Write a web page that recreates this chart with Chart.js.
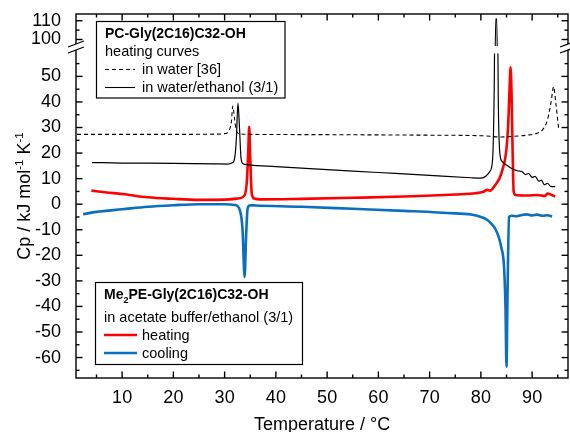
<!DOCTYPE html>
<html>
<head>
<meta charset="utf-8">
<script src="https://cdn.jsdelivr.net/npm/chart.js@4.4.1/dist/chart.umd.min.js"></script>
<style>
  html, body { margin: 0; padding: 0; background: #fff; }
  #wrap { width: 570px; height: 432px; position: relative; }
</style>
</head>
<body>
<div id="wrap"><canvas id="dsc"></canvas></div>
<script>
// ---------- DATA ----------
// PC-Gly(2C16)C32-OH, heating in water [36]
const tempWater = [1.2, 10, 20, 28, 30, 30.8, 31.3, 31.6, 31.9, 32.3, 33, 36, 50, 70, 80, 84, 86, 89, 91, 92, 93, 93.7, 94.2, 94.6, 95.2];
const cpWater   = [27.3, 27.3, 27.3, 27.4, 27.6, 28.6, 32, 38.4, 34, 28.6, 27.5, 27.3, 27.2, 27.0, 26.8, 26.3, 26.5, 27.0, 27.8, 29, 33, 40, 46, 40, 29];

// PC-Gly(2C16)C32-OH, heating in water/ethanol (3/1)
const tempEtOH = [4.1, 10, 20, 28, 30.5, 31.5, 32.0, 32.3, 32.6, 32.9, 33.2, 33.6, 34.5, 40, 50, 60, 70, 78, 80, 81, 81.8, 82.3, 82.6, 82.9, 83.1, 83.4, 83.7, 84.2, 85, 86, 87.3, 88, 88.7, 89.3, 90, 90.6, 91.3, 91.8, 92.4, 93, 93.6, 94.5];
const cpEtOH   = [16.3, 16.1, 16.0, 15.8, 15.7, 16.2, 18.5, 26, 39.6, 30, 18, 15.8, 15.4, 14.7, 13.55, 12.4, 11.25, 10.35, 10.2, 11.0, 13, 18, 45, 111, 111, 40, 20, 16.6, 15.3, 14, 13.0, 12.8, 11.6, 12.0, 10.5, 10.9, 9.0, 9.4, 7.6, 8.2, 7.0, 6.9];

// Me2PE-Gly(2C16)C32-OH, acetate buffer/ethanol (3/1), heating
const tempHeat = [4, 7, 10, 15, 20, 25, 30, 32.5, 33.8, 34.3, 34.6, 34.8, 35.0, 35.3, 35.8, 37, 45, 55, 65, 75, 79, 80.5, 81.2, 81.8, 82.8, 83.6, 84.2, 84.9, 85.3, 85.6, 85.8, 86.0, 86.2, 86.4, 86.8, 89, 91, 92.5, 93, 94.5];
const cpHeat   = [5.3, 4.6, 4.0, 2.7, 2.1, 1.7, 1.8, 2.2, 3.2, 8, 20, 30.3, 18, 4, 2.2, 1.9, 2.1, 2.5, 3.0, 3.8, 4.3, 4.9, 5.6, 5.3, 7.5, 10, 13.4, 20, 30, 45, 53.6, 42, 20, 5, 3.6, 3.4, 3.6, 3.2, 4.2, 3.0];

// Me2PE-Gly(2C16)C32-OH, cooling
const tempCool = [2.4, 5, 10, 15, 20, 25, 30, 32, 33.0, 33.5, 33.9, 34.2, 34.5, 35, 36, 45, 55, 65, 75, 78.6, 80, 81.2, 82.2, 82.9, 83.5, 84.0, 84.5, 84.8, 85.0, 85.2, 85.5, 86, 87, 88, 89, 90, 91, 92, 93, 93.9];
const cpCool   = [-3.9, -3.0, -2.0, -1.0, -0.4, 0, 0, -0.3, -2.5, -10, -28.5, -12, -1.5, -0.4, -0.5, -1.0, -1.8, -2.6, -3.6, -4.2, -5.0, -6.1, -8, -10, -13, -17, -24, -40, -63.6, -35, -5, -4.5, -4.7, -4.2, -4.0, -4.4, -4.1, -4.5, -4.3, -4.8];

// ticks
const xTicks    = [10, 20, 30, 40, 50, 60, 70, 80, 90];
const xMinor    = [5, 15, 25, 35, 45, 55, 65, 75, 85, 95];
const yLowTicks = [-60, -50, -40, -30, -20, -10, 0, 10, 20, 30, 40, 50];
const yLowMinor = [-65, -55, -45, -35, -25, -15, -5, 5, 15, 25, 35, 45, 55];
const yTopTicks = [100, 110];
const yTopMinor = [105];

const FONT = "'Liberation Sans', Arial, sans-serif";
Chart.defaults.font.family = FONT;
Chart.defaults.color = "#000";

function pts(xs, ys) { return xs.map((x, i) => ({ x, y: ys[i] })); }

// ---------- PLUGINS ----------
// each dataset is clipped to its own part of the broken y axis
const clipPart = {
  id: "clipPart",
  beforeDatasetDraw(chart, args) {
    const ds = chart.data.datasets[args.index];
    const sc = chart.scales[ds.yAxisID];
    const a = chart.chartArea;
    const top = ds.yAxisID === "yTop" ? sc.top : sc.getPixelForValue(59);
    const bot = ds.yAxisID === "yTop" ? sc.bottom - 1 : sc.bottom;
    const ctx = chart.ctx;
    ctx.save();
    ctx.beginPath();
    ctx.rect(a.left, top, a.right - a.left, bot - top);
    ctx.clip();
  },
  afterDatasetDraw(chart) { chart.ctx.restore(); }
};

function line(ctx, x1, y1, x2, y2) {
  ctx.beginPath(); ctx.moveTo(x1, y1); ctx.lineTo(x2, y2); ctx.stroke();
}

const frame = {
  id: "frame",
  afterDraw(chart) {
    const { ctx, chartArea: a, scales } = chart;
    const sx = scales.x, yl = scales.yLow, yt = scales.yTop;
    ctx.save();
    ctx.strokeStyle = "#000";
    ctx.lineWidth = 1.4;
    ctx.strokeRect(a.left, a.top, a.right - a.left, a.bottom - a.top);

    // inward ticks on all four sides
    const big = 6.5, small = 3.5;
    xTicks.concat(xMinor).forEach(v => {
      const px = sx.getPixelForValue(v), L = xTicks.includes(v) ? big : small;
      line(ctx, px, a.bottom, px, a.bottom - L);
      line(ctx, px, a.top, px, a.top + L);
    });
    [[yl, yLowTicks, yLowMinor], [yt, yTopTicks, yTopMinor]].forEach(([sc, maj, min]) => {
      maj.concat(min).forEach(v => {
        const py = sc.getPixelForValue(v), L = maj.includes(v) ? big : small;
        line(ctx, a.left, py, a.left + L, py);
        line(ctx, a.right, py, a.right - L, py);
      });
    });

    // axis break marks
    const yb = yt.bottom;
    [a.left, a.right].forEach(xb => {
      ctx.fillStyle = "#fff";
      ctx.fillRect(xb - 2, yb - 3, 4, 6);
      ctx.lineWidth = 1.2;
      line(ctx, xb - 8, yb + 0, xb + 8, yb - 6);
      line(ctx, xb - 8, yb + 6, xb + 8, yb + 0);
    });

    // axis titles
    ctx.fillStyle = "#000";
    ctx.font = "18px " + FONT;
    ctx.textAlign = "center";
    ctx.textBaseline = "alphabetic";
    ctx.fillText("Temperature / °C", (a.left + a.right) / 2, 429.5);

    ctx.save();
    ctx.translate(30, 196);
    ctx.rotate(-Math.PI / 2);
    const parts = [["Cp / kJ mol", 18, 0], ["-1", 11.5, -7.5], [" K", 18, 0], ["-1", 11.5, -7.5]];
    let w = 0;
    parts.forEach(p => { ctx.font = p[1] + "px " + FONT; w += ctx.measureText(p[0]).width; });
    let cx = -w / 2;
    ctx.textAlign = "left";
    parts.forEach(p => {
      ctx.font = p[1] + "px " + FONT;
      ctx.fillText(p[0], cx, p[2]);
      cx += ctx.measureText(p[0]).width;
    });
    ctx.restore();

    // legend boxes
    ctx.lineWidth = 1.2;
    ctx.strokeStyle = "#000";
    ctx.fillStyle = "#fff";
    ctx.fillRect(96.5, 21.5, 188.5, 76.5);
    ctx.strokeRect(96.5, 21.5, 188.5, 76.5);
    ctx.fillRect(95.5, 282.5, 207, 82);
    ctx.strokeRect(95.5, 282.5, 207, 82);

    ctx.fillStyle = "#000";
    ctx.textAlign = "left";
    ctx.font = "bold 14px " + FONT;
    ctx.fillText("PC-Gly(2C16)C32-OH", 105, 38);
    ctx.font = "14.5px " + FONT;
    ctx.fillText("heating curves", 105, 55.5);
    ctx.fillText("in water [36]", 142, 73.5);
    ctx.fillText("in water/ethanol (3/1)", 142, 91.5);

    ctx.font = "bold 14px " + FONT;
    ctx.fillText("Me", 104, 299);
    let mx = 104 + ctx.measureText("Me").width;
    ctx.font = "bold 9px " + FONT;
    ctx.fillText("2", mx, 303);
    mx += ctx.measureText("2").width;
    ctx.font = "bold 14px " + FONT;
    ctx.fillText("PE-Gly(2C16)C32-OH", mx, 299);
    ctx.font = "14.5px " + FONT;
    ctx.fillText("in acetate buffer/ethanol (3/1)", 104, 321.7);
    ctx.fillText("heating", 142, 339.5);
    ctx.fillText("cooling", 142, 357.5);

    // legend samples
    ctx.strokeStyle = "#000";
    ctx.lineWidth = 1.1;
    ctx.setLineDash([4, 3]);
    line(ctx, 105, 69.5, 135, 69.5);
    ctx.setLineDash([]);
    line(ctx, 105, 87.5, 135, 87.5);
    ctx.lineWidth = 2.6;
    ctx.strokeStyle = "#ff0000";
    line(ctx, 104, 335, 137, 335);
    ctx.strokeStyle = "#0a6fbf";
    line(ctx, 104, 353, 137, 353);
    ctx.restore();
  }
};

// ---------- CHART ----------
const baseLine = { pointRadius: 0, cubicInterpolationMode: "monotone", fill: false };

const yCommon = {
  type: "linear",
  position: "left",
  stack: "cp",
  grid: { display: false },
  border: { display: false },
  ticks: { font: { size: 18 }, color: "#000", padding: 7, autoSkip: false },
  afterFit: s => { s.width = 76; s.paddingTop = 0; s.paddingBottom = 0; }
};

new Chart(document.getElementById("dsc"), {
  type: "line",
  data: {
    datasets: [
      { ...baseLine, label: "in water [36]", data: pts(tempWater, cpWater), yAxisID: "yLow",
        borderColor: "#000", borderWidth: 1.1, borderDash: [4, 3] },
      { ...baseLine, label: "in water/ethanol (3/1)", data: pts(tempEtOH, cpEtOH), yAxisID: "yLow",
        borderColor: "#000", borderWidth: 1.2 },
      { ...baseLine, label: "in water/ethanol (3/1) top", data: pts(tempEtOH, cpEtOH), yAxisID: "yTop",
        borderColor: "#000", borderWidth: 1.2 },
      { ...baseLine, label: "cooling", data: pts(tempCool, cpCool), yAxisID: "yLow",
        borderColor: "#0a6fbf", borderWidth: 2.6 },
      { ...baseLine, label: "heating", data: pts(tempHeat, cpHeat), yAxisID: "yLow",
        borderColor: "#ff0000", borderWidth: 2.6 }
    ]
  },
  options: {
    responsive: true,
    maintainAspectRatio: false,
    animation: false,
    layout: { padding: { top: 14, right: 2, left: 0, bottom: 0 } },
    plugins: { legend: { display: false }, tooltip: { enabled: false } },
    scales: {
      x: {
        type: "linear", min: 1, max: 97,
        grid: { display: false },
        border: { display: false },
        ticks: { font: { size: 18 }, color: "#000", padding: 1, maxRotation: 0, autoSkip: false },
        afterBuildTicks: s => { s.ticks = xTicks.map(v => ({ value: v })); },
        afterFit: s => { s.height = 54; s.paddingLeft = 0; s.paddingRight = 0; }
      },
      yLow: {
        ...yCommon, min: -68, max: 61.5, stackWeight: 331,
        afterBuildTicks: s => { s.ticks = yLowTicks.map(v => ({ value: v })); }
      },
      yTop: {
        ...yCommon, min: 96, max: 113.6, stackWeight: 33,
        afterBuildTicks: s => { s.ticks = yTopTicks.map(v => ({ value: v })); }
      }
    }
  },
  plugins: [clipPart, frame]
});
</script>
</body>
</html>
